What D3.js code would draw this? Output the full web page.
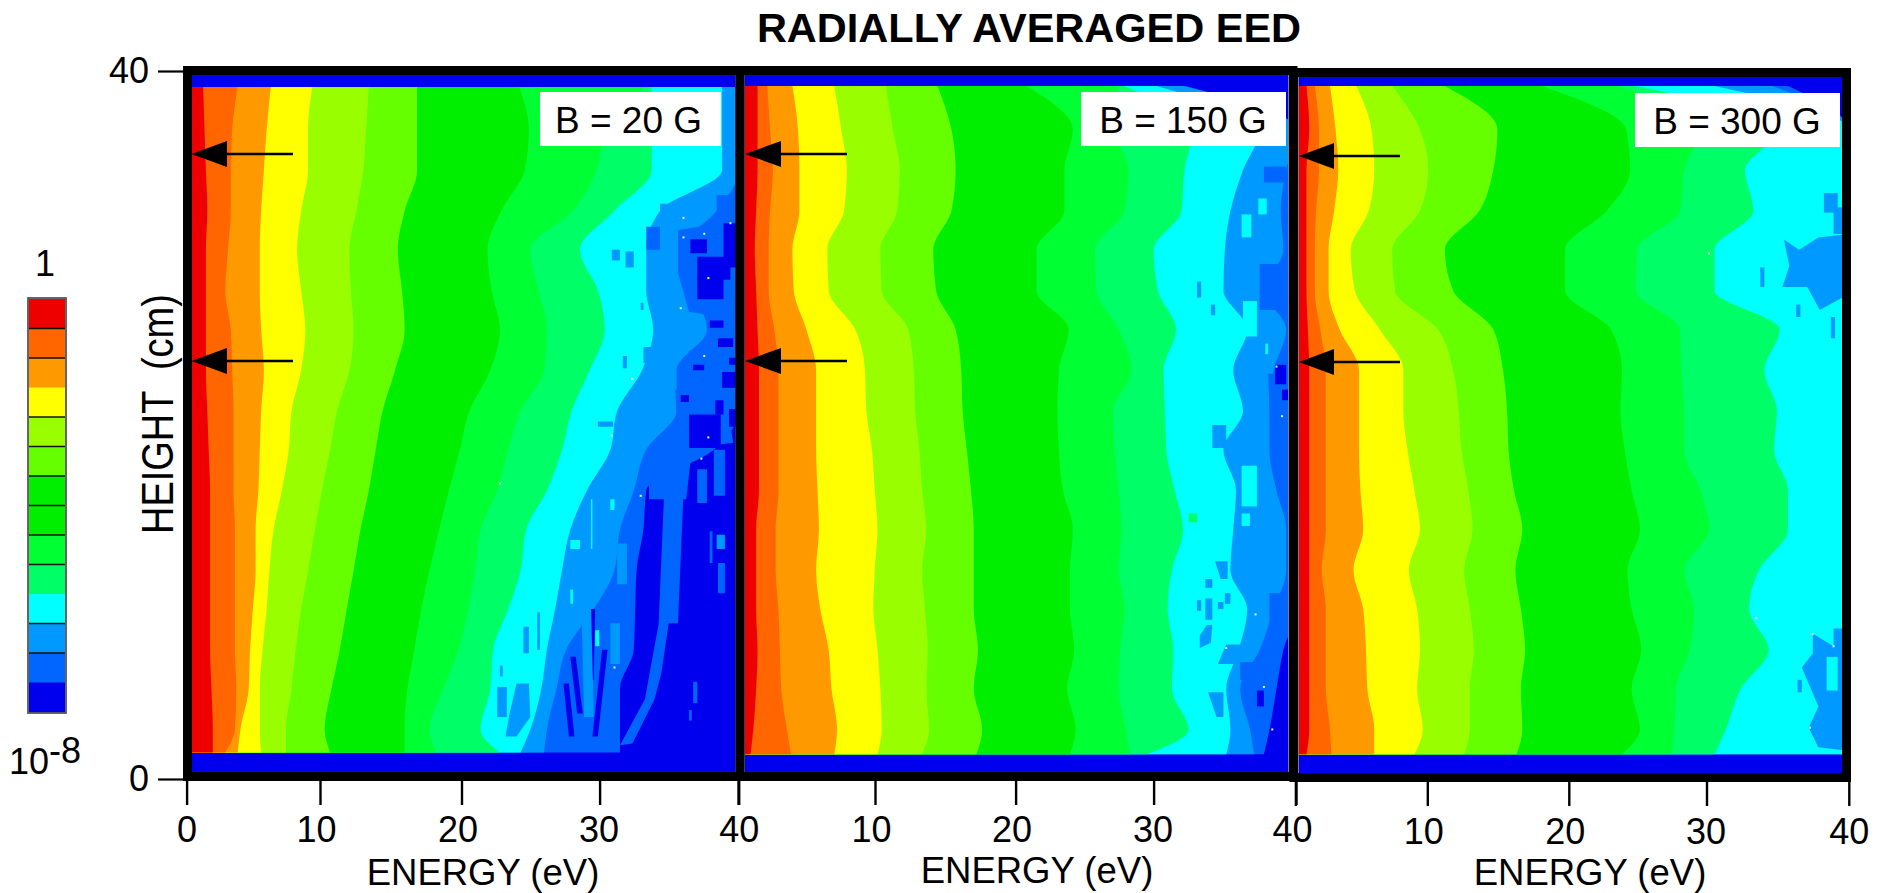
<!DOCTYPE html>
<html>
<head>
<meta charset="utf-8">
<script src="https://cdn.jsdelivr.net/npm/d3@7"></script>
<style>
html,body{margin:0;padding:0;background:#fff;}
svg{display:block;}
text{font-family:"Liberation Sans",Arial,sans-serif;fill:#000;}
</style>
</head>
<body>
<svg id="chart" width="1883" height="893"></svg>
<script>
const chartTitle = "RADIALLY AVERAGED EED";
const xTitle = "ENERGY (eV)";
const yTitle = "HEIGHT  (cm)";
const energyTicks = [0, 10, 20, 30, 40];
const heightTicks = [0, 40];
const levelColors = ["#EE0000","#FF6600","#FF9900","#FFFF00","#99FF00","#66FF00","#00EE00","#00FF33","#00FF66","#00FFFF","#0099FF","#0066FF","#0000EE"];
const legendColors = ["#EE0000","#FF6600","#FF9900","#FFFF00","#99FF00","#66FF00","#00EE00","#00EE00","#00FF33","#00FF66","#00FFFF","#0099FF","#0066FF","#0000EE"];
const legendNoRuleAfter = [2, 9, 12];

// heights (cm) at which the contour positions below were read
const heights = [39.1,36.7,34.4,32.1,29.9,27.6,25.4,23.1,20.8,18.6,16.3,14.1,11.8,9.6,7.3,5.1,2.8,1.5];

// energy (eV) of each contour, one row per height
const contours20G = [
[1.2,3.7,6.1,9.1,13.2,16.7,24.1,33.2,33.7,38.8,40,40],
[1.3,3.3,5.8,8.8,13.0,16.7,24.8,30.4,33.7,38.8,40,40],
[1.4,3.2,5.6,8.8,12.8,16.7,24.5,29.7,33.7,38.8,40,40],
[1.5,3.2,5.4,8.3,12.3,15.8,22.8,28.0,31.0,34.3,38.4,40],
[1.4,3.0,5.3,8.0,11.8,15.3,21.8,24.9,28.5,33.3,35.8,40],
[1.4,2.8,5.3,8.3,11.9,15.6,22.1,25.5,29.8,33.3,36.7,40],
[1.4,3.2,5.4,8.6,12.1,15.8,22.7,26.1,30.3,33.8,37.7,40],
[1.4,3.3,5.6,8.3,11.8,15.1,22.0,25.9,29.2,33.0,35.5,40],
[1.5,3.4,5.4,7.6,10.9,14.2,20.5,24.2,27.9,31.2,35.5,40],
[1.6,3.4,5.3,7.4,10.4,13.7,19.8,23.3,27.2,30.7,33.3,38.2],
[1.7,3.4,5.2,6.9,9.8,13.2,19.0,22.5,26.1,29.0,32.4,33.3],
[1.7,3.5,5.0,6.3,9.3,12.6,18.3,21.3,24.6,27.8,31.4,33.1],
[1.7,3.5,5.0,6.0,8.8,12.1,17.6,20.9,24.2,27.2,31.0,32.6],
[1.7,3.5,4.8,5.8,8.3,11.6,17.0,20.4,23.3,26.7,29.5,32.5],
[1.7,3.5,4.6,5.5,7.9,11.1,16.5,19.7,22.2,26.1,27.5,32.4],
[1.8,3.6,4.5,5.3,7.6,10.5,16.0,18.6,22.0,25.7,26.8,31.4],
[1.9,3.5,3.9,5.3,7.2,10.0,15.8,17.6,21.3,24.9,26.1,31.4],
[1.9,2.8,3.7,5.4,7.2,10.4,15.8,18.1,22.7,24.2,25.9,31.4]
];
const contours150G = [
[1.4,2.1,3.9,6.9,10.6,14.3,20.7,27.3,27.7,30,31.9,32.1],
[1.4,2.3,4.3,7.4,11.1,15.3,24.0,27.0,32.6,37.4,40,40],
[1.4,2.5,4.4,7.8,11.6,15.6,23.4,28.0,32.0,36.2,39.3,40],
[1.3,2.3,4.4,7.6,11.4,15.3,23.4,27.7,31.8,35.3,38.9,40],
[1.2,2.2,3.9,6.4,10.2,14.0,21.4,25.6,29.8,34.9,39.1,40],
[1.3,2.2,4.0,6.5,10.3,14.2,21.4,25.7,30.1,34.8,37.7,40],
[1.4,2.6,4.9,8.4,12.2,15.6,23.7,27.3,31.4,36.5,39.3,40],
[1.5,2.9,5.6,9.1,12.6,16.0,23.0,28.2,30.5,35.5,38.4,40],
[1.5,2.9,5.6,9.2,12.7,16.1,22.9,26.9,30.6,36.2,38.1,40],
[1.5,2.9,5.6,9.6,13.0,16.4,23.0,27.0,30.7,34.8,38.1,39.6],
[1.5,2.9,5.7,9.8,13.2,16.7,23.3,27.3,31.3,35.7,38.6,40],
[1.3,2.7,5.8,10.0,13.5,16.9,24.0,27.5,31.9,35.5,39.3,40],
[1.3,2.7,5.6,9.8,13.2,16.9,23.8,27.3,31.1,35.3,39.3,40],
[1.3,2.9,5.9,9.7,13.4,16.9,23.8,27.7,30.8,36.5,38.4,40],
[1.4,3.0,6.5,10.0,13.6,17.2,24.1,27.4,31.2,35.9,37.4,39.1],
[1.3,3.1,6.7,10.2,13.5,16.9,23.6,27.3,31.1,35.0,36.0,38.6],
[1.1,3.5,7.1,10.3,13.7,17.5,24.2,27.8,32.3,35.3,36.7,38.1],
[0.9,3.8,6.9,10.0,13.2,17.1,23.8,28.1,29.3,35.0,37.0,37.7]
];
const contours300G = [
[0.8,1.4,2.5,4.4,7.0,10.8,17.8,23.4,24.6,30.3,34.5,35.6],
[1.0,1.7,2.9,5.5,9.0,14.6,23.9,29.2,34.9,40,40,40],
[0.8,1.7,3.1,5.7,9.6,14.3,24.2,28.1,32.5,40,40,40],
[0.8,1.5,2.8,5.3,9.0,13.3,22.5,27.8,33.1,40,40,40],
[0.8,1.4,2.4,4.0,7.0,10.8,19.5,24.7,30.3,40,40,40],
[0.8,1.4,2.4,4.3,7.2,11.4,19.5,24.6,30.3,40,40,40],
[0.9,1.8,3.2,6.1,10.3,14.3,22.8,27.8,35.0,40,40,40],
[1.0,2.2,4.6,7.8,11.4,15.0,23.6,27.9,33.9,40,40,40],
[1.0,2.2,4.6,7.8,11.8,15.3,23.5,28.1,34.8,40,40,40],
[1.0,2.2,4.6,8.1,12.0,15.4,23.8,28.1,34.6,40,40,40],
[1.0,2.2,4.7,8.6,12.5,15.8,24.3,29.3,35.6,40,40,40],
[1.0,2.2,4.9,9.0,12.8,16.4,24.9,29.9,35.6,40,40,40],
[1.0,1.9,4.2,8.2,12.2,15.9,24.0,28.1,33.5,40,40,40],
[1.0,2.2,4.9,8.8,12.6,16.3,24.3,28.8,32.8,40,40,40],
[1.0,2.2,5.1,9.0,12.9,16.6,25.0,28.5,34.2,40,40,40],
[1.0,2.2,5.2,8.8,12.6,16.3,24.3,27.5,32.2,40,40,40],
[1.0,2.5,5.7,9.2,12.6,16.4,24.9,27.4,31.1,40,40,40],
[0.8,2.6,5.7,8.6,12.2,16.0,23.6,27.2,30.3,40,40,40]
];

// isolated islands, drawn in order.
// [level, [[energy,height],...]] is an outline, [level, e0, e1, h0, h1] a small block
const islands20G = [
[11,38.4,39.7,33,31.7],
[10,34.3,35.2,32.5,31.4],
[11,33.3,34.3,31.2,29.9],
[11,[[35.6,31],[38.6,31.4],[39.6,30],[39.4,26],[36.4,26.4],[35.6,28.6]]],
[11,[[36.4,24.2],[38.4,24.6],[38.8,22],[36.2,22]]],
[11,[[35.4,22],[39,22],[39.6,19],[35.6,18.6]]],
[12,36.5,37.7,30.5,29.7],
[12,37,39.4,29.5,28.2],
[12,37,38.9,28.3,27.1],
[12,38.9,40,31.4,28.9],
[12,37.9,38.9,25.9,25.5],
[12,38.5,39.6,24.9,24.4],
[12,36.7,37.5,23.4,23.1],
[12,39.3,40,23.8,23.4],
[12,38.8,40,23,22.1],
[12,35.8,36.4,21.7,21.3],
[12,36.4,38.7,20.6,18.7],
[12,38.3,38.9,21.4,20.6],
[12,39.3,40,20.9,19.9],
[10,30.8,31.4,29.9,29.3],
[10,31.8,32.4,29.8,28.9],
[10,32.9,33.1,26.9,26.5],
[10,33.1,34.3,24.4,23.5],
[10,31.6,31.9,23.9,23.2],
[10,34.4,34.7,23,22.3],
[10,29.8,30.9,20.2,19.9],
[11,[[33.5,18.6],[36.6,18.6],[36.2,15.8],[33.5,15.8]]],
[11,37,37.7,17.5,15.6],
[11,38.2,39,18.6,16],
[11,[[34.6,16.2],[36,16.2],[35.6,8.8],[34.2,8.8]]],
[11,[[34.3,9.2],[35,9.2],[34.4,6],[33.9,4.5],[32.3,2],[31.4,1.9],[33.2,4.5]]],
[11,37.9,38.1,14,12.2],
[10,38.4,39,13.8,13],
[11,38.5,39,12.2,10.5],
[11,36.7,37,5.5,4.3],
[11,36.4,36.6,3.9,3.3],
[12,33.2,33.4,15.4,13.1],
[12,[[27.8,6.9],[28.2,6.9],[28.7,3.7],[28.3,3.7]]],
[12,[[29.3,9.6],[29.6,9.6],[29.5,5.6],[29.2,5.6]]],
[12,[[30.1,7.3],[30.5,7.3],[29.8,2.4],[29.4,2.4]]],
[12,[[27.3,5.4],[27.7,5.4],[28.1,2.4],[27.7,2.4]]],
[10,[[28.5,13],[29.2,13],[29.5,3.5],[28.8,3.5]]],
[10,31.2,31.9,13.3,11],
[10,30.7,31.4,8.8,6.5],
[9,27.8,28.5,13.5,13],
[9,29.3,29.4,15.8,13],
[9,27.8,28,10.7,9.9],
[9,30.7,31,15.8,15.2],
[9,29.6,29.9,8.4,7.5],
[10,24.4,24.8,8.6,7.1],
[10,25.4,25.6,9.4,7.3],
[10,22.7,22.9,6.4,5.8],
[10,[[23.9,5.4],[24.8,5.4],[24.9,3.5],[23.9,2.4],[23.1,2.4],[23.4,3.7]]],
[10,22.5,23.2,5.2,3.5]
];
const islands150G = [
[11,37.7,39.3,34.6,33.7],
[9,37.3,37.9,32.8,31.9],
[9,36.1,36.8,31.9,30.6],
[11,37.4,39.3,29.1,26.5],
[9,36.2,37.2,27,25],
[10,32.9,33.2,28.1,27.2],
[10,33.9,34.2,26.8,26.2],
[9,37.8,38,24.6,24],
[11,[[38,22.9],[40,22.9],[40,19],[38.2,19]]],
[12,38.5,39.3,23.4,22.3],
[12,39,39.5,22,21.4],
[10,34,35,20,18.7],
[9,36.1,37.2,17.7,15.4],
[9,36.1,36.7,15,14.3],
[8,32.3,32.9,15,14.5],
[10,[[34.2,12.3],[35.1,12.3],[35.1,11.3],[34.6,11.3]]],
[10,33.5,34,11.3,10.8],
[10,32.9,33.2,10.1,9.5],
[10,33.5,34,10.2,9],
[10,34.4,34.8,10,9.6],
[10,34.9,35.3,10.5,9.9],
[10,[[33.6,8.7],[34,8.7],[33.9,7.7],[33.1,7.4],[33.1,8.1]]],
[10,[[35,7.6],[36,7.6],[36,6.5],[34.4,6.5]]],
[10,[[33.7,4.9],[34.8,4.9],[34.8,3.5],[34.3,3.5]]],
[11,36,37.4,6.6,5.6],
[11,38.1,39.3,10.5,8.6],
[12,37.2,37.7,5,4.1]
];
const islands300G = [
[10,[[35.3,30.5],[36.4,29.9],[37.8,30.6],[40,30.8],[40,27.4],[37.9,26.5],[37,27.8],[35.2,27.8],[35.7,29]]],
[10,38.2,39.2,33.1,32],
[10,38.9,40,32.3,30.8],
[10,33.6,33.9,28.9,27.8],
[10,36.2,36.5,26.8,26.1],
[10,38.7,39,26.1,24.9],
[10,[[37.4,8.2],[38.9,7.5],[38.9,8.5],[40,8.5],[40,1.6],[37.8,1.8],[37.1,2.9],[37.8,4.1],[36.6,6.3],[37.4,7.1]]],
[9,38.4,39.2,6.9,5],
[10,36.3,36.6,5.6,4.9]
];

// saturated single pixels: [energy, height]
const specks20G = [[36,31.7],[39.4,31.4],[36,30.6],[37.5,30.8],[37.8,28.3],[35.8,26.6],[37.5,23.9],[32.3,22.6],[30.8,19.4],[37.8,19.3],[37.3,18.1],[22.7,16.7],[32.9,16],[31,6.3]];
const specks150G = [[38.6,23.3],[39,20.5],[37.1,9.3],[35,7.4],[37.7,5.2],[38.3,2.8]];
const specks300G = [[29.9,29.7],[33.3,9.1],[37.4,8.2],[38.9,7.5],[37.2,2.9]];

const panelLabels = ["B = 20 G","B = 150 G","B = 300 G"];

// layout
const panels = [
 {contours:contours20G, islands:islands20G, specks:specks20G, label:panelLabels[0],
  xr:[186.6,738.7], tick:[186.6,320,461.5,599.6,738.7], inner:[191.5,75,735.5,772],
  frame:[187.5,70.5,740,776.5], box:[540,92,181,54], boxText:[628.5,133], arrow:[191.5,227,293,154,361],
  bandTop:39.1, bandBot:1.5, first:true, axisY:781, xTitleX:483, xTitleY:885, labelY:841.5},
 {contours:contours150G, islands:islands150G, specks:specks150G, label:panelLabels[1],
  xr:[738,1296], tick:[738,875,1015.6,1153.6,1296], inner:[745,75,1288,772],
  frame:[740,70.5,1293,776.5], box:[1081,92,205,54], boxText:[1183,133], arrow:[745,781,847,154,361],
  bandTop:39.15, bandBot:1.4, first:false, axisY:781, xTitleX:1037, xTitleY:883, labelY:841.5},
 {contours:contours300G, islands:islands300G, specks:specks300G, label:panelLabels[2],
  xr:[1295.4,1848.8], tick:[1295.4,1427.3,1568.8,1706.5,1848.8], inner:[1299,77,1842,773],
  frame:[1294,72.5,1846.5,777.5], box:[1635,93,205,54], boxText:[1737,134], arrow:[1299,1334,1400,156,362],
  bandTop:39.15, bandBot:1.4, first:false, axisY:782, xTitleX:1590, xTitleY:885, labelY:843.5}
];

const svg = d3.select("#chart");
const y = d3.scaleLinear().domain([0,40]).range([779,71]);
const defs = svg.append("defs");
const outline = d => d.length === 2 ? d[1] : [[d[1],d[3]],[d[2],d[3]],[d[2],d[4]],[d[1],d[4]]];

panels.forEach((p,pi)=>{
  const x = d3.scaleLinear().domain([0,40]).range(p.xr);
  const [ix0,iy0,ix1,iy1] = p.inner;
  defs.append("clipPath").attr("id","clip"+pi).append("rect")
    .attr("x",ix0).attr("y",iy0).attr("width",ix1-ix0).attr("height",iy1-iy0);
  const g = svg.append("g").attr("clip-path",`url(#clip${pi})`);
  g.append("rect").attr("x",ix0).attr("y",iy0).attr("width",ix1-ix0).attr("height",iy1-iy0)
    .attr("fill",levelColors[12]);
  const hs = heights.map((h,i)=> i===0 ? p.bandTop : i===heights.length-1 ? p.bandBot : h);
  for(let k=11;k>=0;k--){
    const area = d3.area().curve(d3.curveMonotoneY)
      .y((d,i)=>y(hs[i])).x0(x(0)).x1(d=>x(d[k]));
    g.append("path").datum(p.contours).attr("d",area).attr("fill",levelColors[k]);
  }
  const line = d3.line().x(d=>x(d[0])).y(d=>y(d[1])).curve(d3.curveLinearClosed);
  g.selectAll(null).data(p.islands).enter().append("path")
    .attr("d",d=>line(outline(d))).attr("fill",d=>levelColors[d[0]]);
  g.selectAll(null).data(p.specks).enter().append("rect")
    .attr("x",d=>x(d[0])-1).attr("y",d=>y(d[1])-1).attr("width",2).attr("height",2)
    .attr("fill","#E8F4FF");

  // label box
  svg.append("rect").attr("x",p.box[0]).attr("y",p.box[1]).attr("width",p.box[2]).attr("height",p.box[3]).attr("fill","#fff");
  svg.append("text").attr("x",p.boxText[0]).attr("y",p.boxText[1]).attr("text-anchor","middle")
    .attr("font-size",37).text(p.label);

  // arrows
  const [tip,base,end,ay1,ay2] = p.arrow;
  [ay1,ay2].forEach(ay=>{
    svg.append("line").attr("x1",base).attr("x2",end).attr("y1",ay).attr("y2",ay)
      .attr("stroke","#000").attr("stroke-width",2.6);
    svg.append("path").attr("d",d3.line()([[tip,ay],[base,ay-13],[base,ay+13]])+"Z").attr("fill","#000");
  });

  // x axis
  const xAxisScale = d3.scaleLinear().domain(energyTicks).range(p.tick);
  const ax = svg.append("g").attr("transform",`translate(0,${p.axisY})`)
    .call(d3.axisBottom(xAxisScale).tickValues(energyTicks).tickSize(24).tickSizeOuter(0)
      .tickFormat(d=>(d===0 && !p.first) ? "" : d));
  ax.select(".domain").remove();
  ax.selectAll("line").attr("stroke","#000").attr("stroke-width",2.4);
  ax.selectAll("text").attr("dy",null)
    .attr("font-size",36).attr("font-family",'"Liberation Sans",Arial,sans-serif')
    .attr("fill","#000").attr("text-anchor","middle")
    .attr("x",d=> (d===0||d===40) ? (pi===1&&d===40?-4:0) : (d===30?-1:-4))
    .attr("y",p.labelY-p.axisY);

  svg.append("text").attr("x",p.xTitleX).attr("y",p.xTitleY).attr("text-anchor","middle")
    .attr("font-size",36.5).text(xTitle);
});

// frames on top of the fields
panels.forEach(p=>{
  const [a,b,c,d] = p.frame;
  svg.append("rect").attr("x",a).attr("y",b).attr("width",c-a).attr("height",d-b)
    .attr("fill","none").attr("stroke","#000").attr("stroke-width",9);
});

// y axis
const ay = svg.append("g").attr("transform","translate(183,0)")
  .call(d3.axisLeft(y).tickValues(heightTicks).tickSize(25).tickSizeOuter(0).tickPadding(9));
ay.select(".domain").remove();
ay.selectAll("line").attr("stroke","#000").attr("stroke-width",2.2);
ay.selectAll("text").attr("font-size",36).attr("font-family",'"Liberation Sans",Arial,sans-serif').attr("fill","#000");

svg.append("text").attr("transform","translate(173,534) rotate(-90) scale(1,1.18)")
  .attr("font-size",38).style("white-space","pre").text(yTitle);

// title
svg.append("text").attr("x",1029).attr("y",41.5).attr("text-anchor","middle")
  .attr("font-size",41.5).attr("font-weight","bold").text(chartTitle);

// legend
const lg = d3.scaleBand().domain(d3.range(legendColors.length)).range([299,712]);
const lgx = [29,65];
svg.selectAll(null).data(legendColors).enter().append("rect")
  .attr("x",lgx[0]).attr("width",lgx[1]-lgx[0]).attr("y",(d,i)=>lg(i)).attr("height",lg.bandwidth()+0.5).attr("fill",d=>d);
svg.selectAll(null).data(d3.range(legendColors.length-1).filter(i=>!legendNoRuleAfter.includes(i))).enter().append("line")
  .attr("x1",lgx[0]).attr("x2",lgx[1]).attr("y1",i=>lg(i+1)).attr("y2",i=>lg(i+1))
  .attr("stroke","#111").attr("stroke-width",1.6);
svg.append("rect").attr("x",lgx[0]-1).attr("y",298).attr("width",lgx[1]-lgx[0]+2).attr("height",415)
  .attr("fill","none").attr("stroke","#555").attr("stroke-width",1.8);
svg.append("text").attr("x",45).attr("y",276).attr("text-anchor","middle").attr("font-size",36).text("1");
svg.append("text").attr("x",9).attr("y",774).attr("font-size",36).text("10");
svg.append("text").attr("x",49).attr("y",763).attr("font-size",36).text("-8");
</script>
</body>
</html>
